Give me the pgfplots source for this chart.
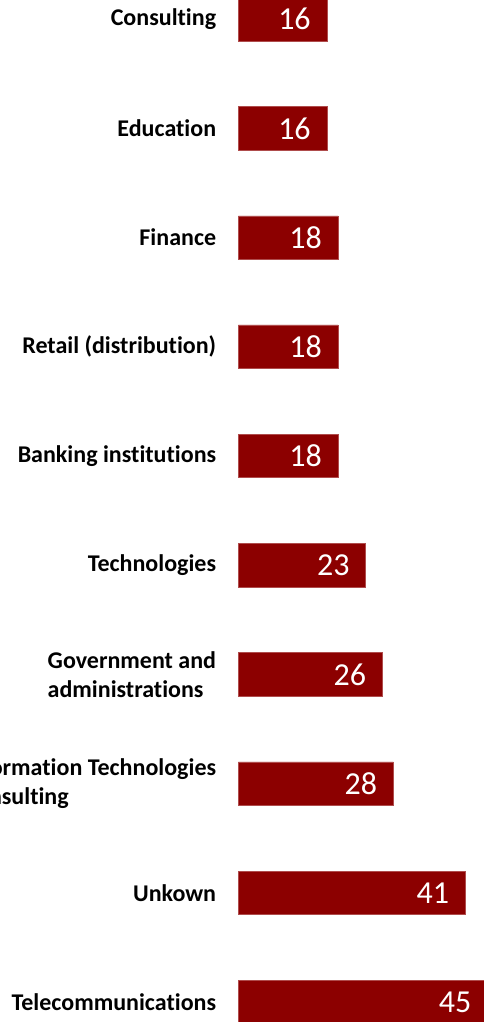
\documentclass[border=0pt]{standalone}
\usepackage{pgfplots}
\pgfplotsset{compat=1.18}
\usepackage{fontspec}
\setmainfont{Carlito}[Ligatures=NoCommon]
\definecolor{barred}{RGB}{140,0,0}
\pgfplotstableread{
y v
0 45
1 41
2 28
3 26
4 23
5 18
6 18
7 18
8 16
9 16
}\datatable
\begin{document}
\begin{tikzpicture}
\useasboundingbox (0pt,0pt) rectangle (483pt,1022pt);
\begin{axis}[
  at={(238.3pt,-34.6pt)}, anchor=south west,
  scale only axis, width=249.3pt, height=1092pt,
  xbar, bar width=43.5pt, bar shift=0pt,
  xmin=0, xmax=45, ymin=-0.5, ymax=9.5,
  axis line style={draw=none}, tick style={draw=none},
  major tick length=0pt,
  xtick=\empty,
  ytick={0,...,9},
  yticklabels={Telecommunications, Unkown, {Information Technologies\\Consulting}, {Government and\\administrations}, Technologies, Banking institutions, Retail (distribution), Finance, Education, Consulting},
  yticklabel style={align=left, inner sep=0pt, font=\fontsize{24}{29}\selectfont\bfseries},
  yticklabel shift=22pt,
  /pgf/number format/assume math mode=true,
  nodes near coords,
  every node near coord/.append style={anchor=east, xshift=-16pt, inner sep=0pt, text=white, font=\fontsize{32}{32}\selectfont},
  clip=false,
]
\addplot[fill=barred, draw=barred!70!white, line width=0.5pt] table[x=v, y=y] {\datatable};
\end{axis}
\end{tikzpicture}
\end{document}
